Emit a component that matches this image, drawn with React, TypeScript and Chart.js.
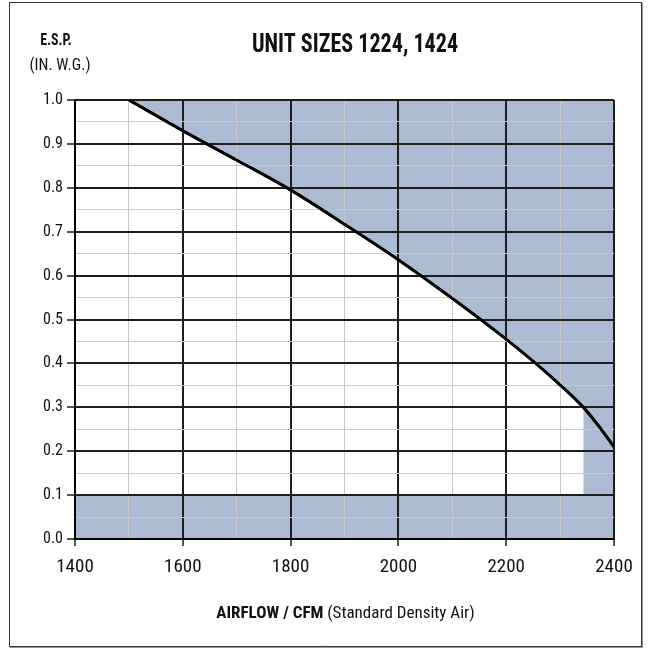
import React, { useEffect, useRef } from 'react';
import { Chart, registerables } from 'chart.js';

Chart.register(...registerables);

const FONT = '"Roboto Condensed", "Open Sans", sans-serif';

const TITLE = 'UNIT SIZES 1224, 1424';
const Y_LABEL_TOP = 'E.S.P.';
const Y_LABEL_UNITS = '(IN. W.G.)';
const X_LABEL_BOLD = 'AIRFLOW / CFM';
const X_LABEL_REGULAR = ' (Standard Density Air)';

// Fan curve (airflow CFM vs external static pressure, in. w.g.)
const curveCfm = [1500, 1600, 1700, 1800, 1900, 2000, 2100, 2200, 2250, 2300, 2343, 2370, 2400];
const curveEsp = [1.0, 0.93, 0.863, 0.795, 0.717, 0.636, 0.548, 0.455, 0.405, 0.351, 0.3, 0.26, 0.21];

// Shaded (non-operating) regions
const stripStartCfm = 2343;
const stripEndCfm = 2400;
const minEsp = 0.1;
const bandCfm = [1400, 2400];
const bandEsp = [0.1, 0.1];

// Axes
const xMin = 1400;
const xMax = 2400;
const yMin = 0;
const yMax = 1;
const xMajorTicks = [1400, 1600, 1800, 2000, 2200, 2400];
const xTickLabels = ['1400', '1600', '1800', '2000', '2200', '2400'];
const yMajorTicks = [0, 0.1, 0.2, 0.3, 0.4, 0.5, 0.6, 0.7, 0.8, 0.9, 1.0];
const yTickLabels = ['0.0', '0.1', '0.2', '0.3', '0.4', '0.5', '0.6', '0.7', '0.8', '0.9', '1.0'];

const SHADE = '#abbcd2';
const GRID_MINOR = '#c8c8c8';
const GRID_MAJOR = '#1e1e1e';

const majorIndex = (list: number[], v: number) => list.findIndex((m) => Math.abs(m - v) < 1e-6);

const drawScaledText = (
  ctx: CanvasRenderingContext2D,
  text: string,
  font: string,
  cx: number,
  baseline: number,
  sx: number
) => {
  ctx.save();
  ctx.font = font;
  ctx.textAlign = 'center';
  ctx.textBaseline = 'alphabetic';
  ctx.translate(cx, baseline);
  ctx.scale(sx, 1);
  ctx.fillText(text, 0, 0);
  ctx.restore();
};

const decorPlugin = {
  id: 'decor',
  afterDraw(chart: any) {
    // redraw the fan curve above the grid
    const meta = chart.getDatasetMeta(0);
    const ctx = chart.ctx as CanvasRenderingContext2D;
    ctx.save();
    meta.controller.draw();
    ctx.restore();

    ctx.save();
    // frame
    ctx.strokeStyle = '#333';
    ctx.lineWidth = 1;
    ctx.strokeRect(9.5, 2.5, 632, 644);
    ctx.strokeStyle = '#999';
    ctx.beginPath();
    ctx.moveTo(642.5, 3);
    ctx.lineTo(642.5, 648);
    ctx.moveTo(10, 647.5);
    ctx.lineTo(643, 647.5);
    ctx.stroke();

    ctx.fillStyle = '#111';
    drawScaledText(ctx, Y_LABEL_TOP, `bold 17px ${FONT}`, 56, 45, 0.82);
    drawScaledText(ctx, Y_LABEL_UNITS, `17px ${FONT}`, 60, 70, 0.94);
    drawScaledText(ctx, TITLE, `bold 26px ${FONT}`, 355, 52, 0.85);

    // x axis title (bold + regular)
    ctx.textAlign = 'left';
    ctx.textBaseline = 'alphabetic';
    ctx.font = `bold 17px ${FONT}`;
    const wb = ctx.measureText(X_LABEL_BOLD).width;
    ctx.font = `17px ${FONT}`;
    const wr = ctx.measureText(X_LABEL_REGULAR).width;
    const area = chart.chartArea;
    const cx = (area.left + area.right) / 2 + 1;
    const x0 = cx - (wb + wr) / 2;
    ctx.font = `bold 17px ${FONT}`;
    ctx.fillText(X_LABEL_BOLD, x0, 618);
    ctx.font = `17px ${FONT}`;
    ctx.fillText(X_LABEL_REGULAR, x0 + wb, 618);
    ctx.restore();
  },
};

export default function App() {
  const ref = useRef<HTMLCanvasElement | null>(null);

  useEffect(() => {
    if (!ref.current) return;
    const curve = curveCfm.map((x, i) => ({ x, y: curveEsp[i] }));
    const strip = [
      { x: stripStartCfm, y: minEsp },
      { x: stripEndCfm, y: minEsp },
    ];
    const band = bandCfm.map((x, i) => ({ x, y: bandEsp[i] }));

    const chart = new Chart(ref.current, {
      type: 'line',
      data: {
        datasets: [
          {
            label: 'Fan curve',
            data: curve,
            borderColor: '#000',
            borderWidth: 2.8,
            backgroundColor: SHADE,
            fill: 'end',
            pointRadius: 0,
            cubicInterpolationMode: 'monotone',
          },
          {
            label: 'Strip',
            data: strip,
            borderColor: 'transparent',
            borderWidth: 0,
            backgroundColor: SHADE,
            fill: 0,
            pointRadius: 0,
          },
          {
            label: 'Band',
            data: band,
            borderColor: 'transparent',
            borderWidth: 0,
            backgroundColor: SHADE,
            fill: 'origin',
            pointRadius: 0,
          },
        ],
      },
      options: {
        animation: false,
        responsive: false,
        devicePixelRatio: 1,
        events: [],
        layout: { padding: { left: 0, right: 34, top: 100, bottom: 0 } },
        plugins: {
          legend: { display: false },
          title: { display: false },
          tooltip: { enabled: false },
        },
        scales: {
          x: {
            type: 'linear',
            min: xMin,
            max: xMax,
            afterFit: (s: any) => {
              s.height = 111;
            },
            ticks: {
              stepSize: 100,
              autoSkip: false,
              maxRotation: 0,
              padding: 10,
              color: '#111',
              font: { family: FONT, size: 19 },
              callback: (v: any) => {
                const i = majorIndex(xMajorTicks, Number(v));
                return i >= 0 ? xTickLabels[i] : '';
              },
            },
            grid: {
              z: 1,
              color: (c: any) => (majorIndex(xMajorTicks, c.tick?.value) >= 0 ? GRID_MAJOR : GRID_MINOR),
              lineWidth: (c: any) => (majorIndex(xMajorTicks, c.tick?.value) >= 0 ? 2 : 1),
              tickColor: (c: any) => (majorIndex(xMajorTicks, c.tick?.value) >= 0 ? GRID_MAJOR : 'transparent'),
              tickLength: 7,
              tickWidth: 1.5,
            },
            border: { display: true, color: '#000', width: 2, z: 2 },
          },
          y: {
            type: 'linear',
            min: yMin,
            max: yMax,
            afterFit: (s: any) => {
              s.width = 75;
            },
            ticks: {
              stepSize: 0.05,
              autoSkip: false,
              padding: 4,
              color: '#111',
              font: { family: FONT, size: 16 },
              callback: (v: any) => {
                const i = majorIndex(yMajorTicks, Number(v));
                return i >= 0 ? yTickLabels[i] : '';
              },
            },
            grid: {
              z: 1,
              color: (c: any) => (majorIndex(yMajorTicks, c.tick?.value) >= 0 ? GRID_MAJOR : GRID_MINOR),
              lineWidth: (c: any) => (majorIndex(yMajorTicks, c.tick?.value) >= 0 ? 2 : 1),
              tickColor: (c: any) => (majorIndex(yMajorTicks, c.tick?.value) >= 0 ? GRID_MAJOR : 'transparent'),
              tickLength: 8,
              tickWidth: 1.5,
            },
            border: { display: true, color: '#000', width: 2, z: 2 },
          },
        },
      },
      plugins: [decorPlugin],
    } as any);
    return () => chart.destroy();
  }, []);

  return (
    <div style={{ position: 'absolute', left: 0, top: 0, width: 648, height: 650, background: '#fff' }}>
      <canvas ref={ref} width={648} height={650} style={{ display: 'block', width: 648, height: 650 }} />
    </div>
  );
}
